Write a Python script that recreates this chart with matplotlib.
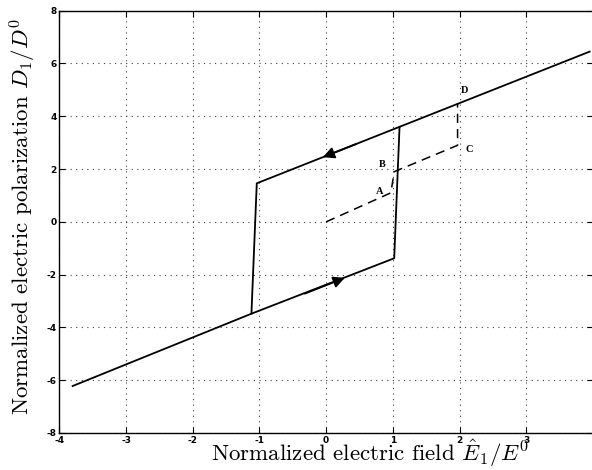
import matplotlib
matplotlib.use('Agg')
import matplotlib.pyplot as plt

# hysteresis loop (solid): rising path along lower branch, jump, upper branch
rise_E = [-3.80, -1.12, 1.02, 1.10, 3.95]
rise_D = [-6.22, -3.48, -1.38, 3.60, 6.45]
# return path along upper branch and down the left side
fall_E = [1.10, -1.04, -1.12]
fall_D = [3.60, 1.46, -3.48]

# dashed virgin path O -> A -> B -> C -> D
path_E = [0.00, 0.97, 1.02, 1.97, 1.97]
path_D = [0.00, 1.10, 1.90, 2.90, 4.50]

point_names = ['A', 'B', 'C', 'D']
point_E = [0.80, 0.84, 2.14, 2.07]
point_D = [1.15, 2.16, 2.73, 4.97]

xticks = [-4, -3, -2, -1, 0, 1, 2, 3, 4]
xticklabels = ['-4', '-3', '-2', '-1', '0', '1', '2', '3', '']
yticks = [-8, -6, -4, -2, 0, 2, 4, 6, 8]

plt.rcParams['mathtext.fontset'] = 'cm'

fig = plt.figure(figsize=(5.92, 4.70), dpi=100)
ax = fig.add_axes([59.3/592, 37/470, 533.7/592, 422.3/470])

ax.plot(rise_E, rise_D, color='black', lw=1.3)
ax.plot(fall_E, fall_D, color='black', lw=1.3)
ax.plot(path_E, path_D, color='black', lw=1.1, linestyle=(0, (6, 4)))

# direction arrows
ax.annotate('', xy=(-0.05, 2.45), xytext=(0.45, 2.95),
            arrowprops=dict(arrowstyle='-|>', color='black', lw=1.3,
                            mutation_scale=17, shrinkA=0, shrinkB=0))
ax.annotate('', xy=(0.28, -2.12), xytext=(-0.32, -2.72),
            arrowprops=dict(arrowstyle='-|>', color='black', lw=1.3,
                            mutation_scale=17, shrinkA=0, shrinkB=0))

for name, e, d in zip(point_names, point_E, point_D):
    ax.text(e, d, name, fontsize=7.5, fontweight='bold',
            family='Liberation Serif', ha='center', va='center')

ax.set_xlim(-4, 4)
ax.set_ylim(-8, 8)
ax.set_xticks(xticks)
ax.set_yticks(yticks)
ax.set_xticklabels(xticklabels)
ax.set_yticklabels([str(t) for t in yticks])
ax.tick_params(direction='in', top=True, right=True, length=4, width=0.8,
               labelsize=6.5, pad=2)
for lab in ax.get_xticklabels() + ax.get_yticklabels():
    lab.set_fontweight('bold')

ax.grid(True, color='0.25', linestyle=(0, (1, 4)), lw=0.8)
for sp in ax.spines.values():
    sp.set_linewidth(1.0)

ax.set_xlabel(r'Normalized electric field $\hat{E}_1/E^0$',
              family='cmr10', fontsize=16.5)
ax.set_ylabel(r'Normalized electric polarization $D_1/D^0$',
              family='cmr10', fontsize=16.5)
ax.xaxis.set_label_coords((370 - 59.3) / 533.7, -0.010)
ax.yaxis.set_label_coords(-0.040, (433 - 216) / 422.3)

fig.savefig('out.png', dpi=100)
